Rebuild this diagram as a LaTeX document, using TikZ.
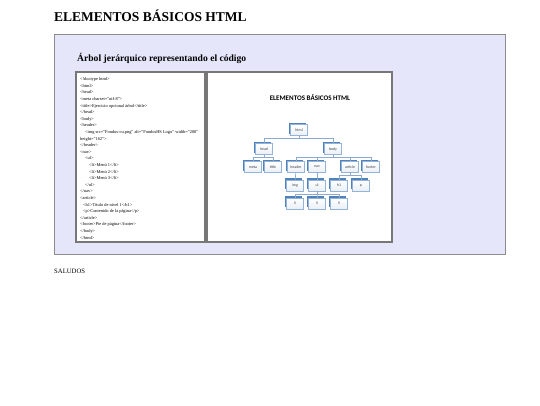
\documentclass[tikz,border=0pt]{standalone}
\usepackage{fontspec}
\setmainfont{Liberation Serif}
\newfontfamily\calibri{Carlito}
\usetikzlibrary{shadows}
\definecolor{lavanda}{HTML}{E6E6FA}
\definecolor{marco}{HTML}{8C8C8C}
\definecolor{azulcaja}{HTML}{4F81BD}
\definecolor{bordecaja}{HTML}{95B3D7}
\definecolor{linea}{HTML}{8EA9D0}
\tikzset{
  caja/.style={draw=bordecaja, line width=0.5pt, top color=white, bottom color=azulcaja!12,
    minimum width=17pt, minimum height=11pt, inner sep=0pt,
    font=\calibri\fontsize{3.9}{4}\selectfont, text=black!75,
    drop shadow={shadow xshift=-1.6pt, shadow yshift=1.6pt, fill=azulcaja, opacity=1}},
  link/.style={draw=linea, line width=0.6pt},
  panel/.style={draw=marco!85!black, line width=1.2pt, fill=white}
}
\begin{document}
\begin{tikzpicture}[x=1pt,y=-1pt]
\useasboundingbox (0,0) rectangle (540,405);
\node[anchor=base west, inner sep=0pt, font=\bfseries\fontsize{13.5}{15}\selectfont] (titulo) at (54,21) {ELEMENTOS BÁSICOS HTML};
\draw[draw=marco, line width=0.8pt, fill=lavanda] (54,34) rectangle (505,254);
\node[anchor=base west, inner sep=0pt, font=\bfseries\fontsize{9.6}{11}\selectfont] (subtitulo) at (77,61) {Árbol jerárquico representando el código};
\draw[panel] (76,72) rectangle (205,242);
\draw[panel] (207,72) rectangle (392,242);
% codigo
\node[anchor=north west, inner sep=0pt, align=left, font=\fontsize{4.4}{6.6}\selectfont] (codigo) at (80,77.5) {%
<!doctype html>\\
<html>\\
<head>\\
<meta charset="utf-8">\\
<title>Ejercicio opcional árbol</title>\\
</head>\\
<body>\\
<header>\\
\hspace{5pt}<img src="Fondos-cu.png" alt="FondosHS Logo" width="200"\\
height="162">\\
</header>\\
<nav>\\
\hspace{5pt}<ul>\\
\hspace{9pt}<li>Menú 1</li>\\
\hspace{9pt}<li>Menú 2</li>\\
\hspace{9pt}<li>Menú 3</li>\\
\hspace{5pt}</ul>\\
</nav>\\
<article>\\
\hspace{3pt}<h1>Título de nivel 1</h1>\\
\hspace{3pt}<p>Contenido de la página</p>\\
</article>\\
<footer>Pie de página</footer>\\
</body>\\
</html>};
% arbol
\node[font=\calibri\bfseries\fontsize{7}{8}\selectfont] (arbol) at (310,98) {ELEMENTOS BÁSICOS HTML};
\node[caja] (html) at (299,130) {html};
\node[caja] (head) at (264,149) {head};
\node[caja] (body) at (333,149) {body};
\node[caja] (meta) at (253,167) {meta};
\node[caja] (title) at (273,167) {title};
\node[caja] (header) at (296,167) {header};
\node[caja] (nav) at (317,167) {nav};
\node[caja] (article) at (350,167) {article};
\node[caja] (footer) at (371,167) {footer};
\node[caja] (img) at (295,185.5) {img};
\node[caja] (ul) at (317,185.5) {ul};
\node[caja] (h1) at (339,185.5) {h1};
\node[caja] (p) at (361,185.5) {p};
\node[caja] (li1) at (295,203.5) {li};
\node[caja] (li2) at (317,203.5) {li};
\node[caja] (li3) at (339,203.5) {li};
\draw[link] (html.south) -- ++(0,3) -| (head.north);
\draw[link] (html.south) -- ++(0,3) -| (body.north);
\draw[link] (head.south) -- ++(0,3) -| (meta.north);
\draw[link] (head.south) -- ++(0,3) -| (title.north);
\draw[link] (body.south) -- ++(0,3) -| (header.north);
\draw[link] (body.south) -- ++(0,3) -| (nav.north);
\draw[link] (body.south) -- ++(0,3) -| (article.north);
\draw[link] (body.south) -- ++(0,3) -| (footer.north);
\draw[link] (header) -- (img);
\draw[link] (nav) -- (ul);
\draw[link] (article.south) -- ++(0,3) -| (h1.north);
\draw[link] (article.south) -- ++(0,3) -| (p.north);
\draw[link] (ul.south) -- ++(0,3) -| (li1.north);
\draw[link] (ul.south) -- ++(0,3) -| (li2.north);
\draw[link] (ul.south) -- ++(0,3) -| (li3.north);
\node[anchor=base west, inner sep=0pt, font=\fontsize{6.7}{8}\selectfont] (saludos) at (54,273) {SALUDOS};
\end{tikzpicture}
\end{document}
